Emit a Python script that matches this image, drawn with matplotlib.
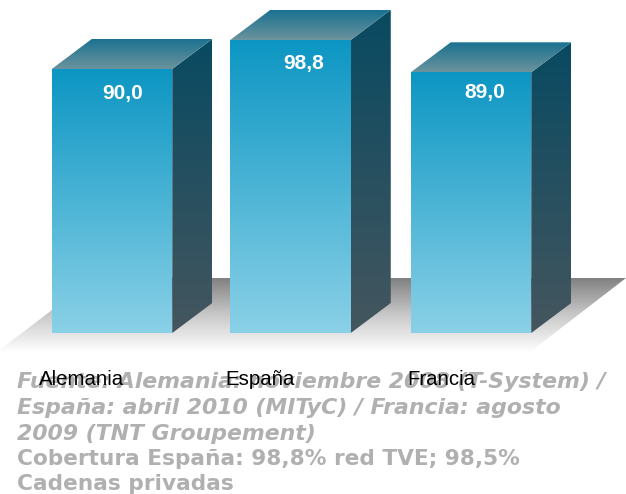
import numpy as np
import matplotlib
matplotlib.use("Agg")
import matplotlib.pyplot as plt
from matplotlib.colors import LinearSegmentedColormap
from matplotlib.patches import Polygon

W, H = 626, 494

categories = ["Alemania", "España", "Francia"]
values = [90.0, 98.8, 89.0]
value_labels = ["90,0", "98,8", "89,0"]

source_italic = [
    "Fuente: Alemania: noviembre 2008 (T-System) /",
    "España: abril 2010 (MITyC) / Francia: agosto",
    "2009 (TNT Groupement)",
]
source_plain = [
    "Cobertura España: 98,8% red TVE; 98,5%",
    "Cadenas privadas",
]

# scale of the picture: baseline value and pixels per unit / per category
base_value = 10.0
px_per_unit = 3.3
px_per_cat = 179.5
first_center = 112.0
base_px = 333.0
bar_width = 120.5 / px_per_cat
depth_x = 40.0 / px_per_cat
depth_y = 30.0 / px_per_unit


def px_x(p):
    return (p - first_center) / px_per_cat


def px_y(p):
    return base_value + (base_px - p) / px_per_unit


def gradient(ax, poly_pts, top, bottom, colors):
    # vertical gradient clipped to a polygon
    cmap = LinearSegmentedColormap.from_list("g", colors)
    xs = [p[0] for p in poly_pts]
    grad = np.linspace(0, 1, 256).reshape(-1, 1)
    im = ax.imshow(grad, extent=(min(xs), max(xs), bottom, top), origin="upper",
                   aspect="auto", cmap=cmap, vmin=0, vmax=1, zorder=2,
                   interpolation="bilinear")
    patch = Polygon(poly_pts, closed=True, transform=ax.transData, fc="none", ec="none")
    ax.add_patch(patch)
    im.set_clip_path(patch)


fig = plt.figure(figsize=(W / 100, H / 100), dpi=100)
ax = fig.add_axes([0, 0, 1, 1])

# floor shadow
floor = [(px_x(94), px_y(278)), (px_x(626), px_y(278)), (px_x(530), px_y(352)), (px_x(-3), px_y(352))]
gradient(ax, floor, px_y(278), px_y(352), ["#7f7f7f", "#c8c8c8", "#ffffff"])

# bars are not quite evenly spaced in the original
x = [0.0, px_x(290.5), px_x(471)]
for i, v in zip(x, values):
    left = i - bar_width / 2
    right = i + bar_width / 2
    # side face
    side = [(right, base_value), (right + depth_x, base_value + depth_y),
            (right + depth_x, v + depth_y), (right, v)]
    gradient(ax, side, v + depth_y, base_value, ["#084a62", "#45565e"])
    # top face
    top = [(left, v), (right, v), (right + depth_x, v + depth_y), (left + depth_x, v + depth_y)]
    gradient(ax, top, v + depth_y, v, ["#1a7191", "#6b939d"])
    # front face
    front = [(left, base_value), (right, base_value), (right, v), (left, v)]
    gradient(ax, front, v, base_value, ["#0c96c3", "#8ad1e7"])

# value labels sit off-centre in the original
label_dx = [11, 13, 14]
label_dy = [-24, -24, -20]
for i, v, txt, dx, dy in zip(x, values, value_labels, label_dx, label_dy):
    ax.annotate(txt, (i, v), xytext=(dx * 0.72, dy * 0.72), textcoords="offset points",
                ha="center", va="center", color="white", fontsize=15,
                fontweight="bold", family="Liberation Sans", zorder=5)

grey = "#b0b0b0"
line_px = [388, 414, 440, 465, 490]
for line, p in zip(source_italic + source_plain, line_px):
    italic = line in source_italic
    ax.text(px_x(17), px_y(p), line, color=grey, fontsize=15.8 if italic else 15.6,
            fontweight="bold", style="italic" if italic else "normal",
            family="DejaVu Sans", ha="left", va="baseline", zorder=4)

# category labels are shifted left of the bars, over the source text
for i, name in zip(x, categories):
    ax.text(i + px_x(82) - px_x(112), px_y(385), name, color="black", fontsize=14.7,
            family="Liberation Sans", ha="center", va="baseline", zorder=6)

ax.set_xlim(px_x(0), px_x(W))
ax.set_ylim(px_y(H), px_y(0))
ax.axis("off")

fig.savefig("out.png", dpi=100)
